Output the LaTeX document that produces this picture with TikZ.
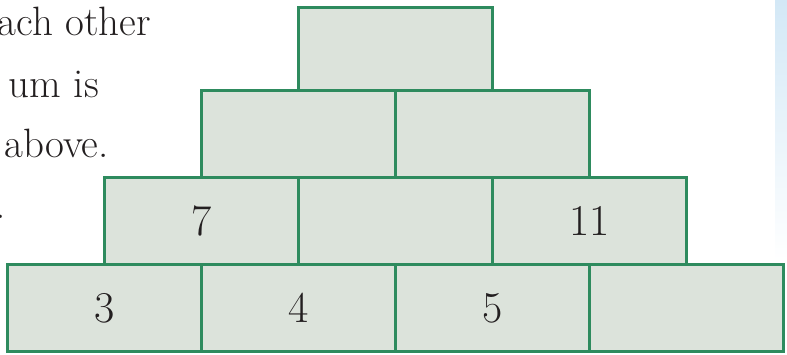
\documentclass[tikz,border=0pt]{standalone}
\usetikzlibrary{positioning}
\definecolor{brickline}{HTML}{2E8B5E}
\definecolor{brickfill}{HTML}{DCE3DB}
\definecolor{inkdark}{HTML}{231F20}
\definecolor{skyblue}{HTML}{D3E8F6}
\tikzset{
  brick/.style={draw=brickline,fill=brickfill,line width=2.4pt,minimum width=194pt,minimum height=87pt,inner sep=0pt,outer sep=0pt,font=\fontsize{44}{48}\selectfont,text=inkdark},
  prose/.style={font=\fontsize{41}{44}\selectfont,text=inkdark,inner sep=0pt,anchor=base east}
}
\begin{document}
\begin{tikzpicture}[x=1pt,y=-1pt]
  \useasboundingbox (0,0) rectangle (787,354);
  \shade[top color=skyblue,bottom color=white] (775,0) rectangle (787,262);
  % text cut off at the left edge
  \node[prose] (line1) at (151,35) {ach other};
  \node[prose] (line2) at (99,97) {um is};
  \node[prose] (line3) at (109,157) {above.};
  \node[prose] (line4) at (6,218) {.};
  % bottom row
  \node[brick] (b1) at (104.5,308) {3};
  \node[brick,right=0pt of b1] (b2) {4};
  \node[brick,right=0pt of b2] (b3) {5};
  \node[brick,right=0pt of b3] (b4) {};
  % third row
  \node[brick,anchor=south] (m1) at (b1.north east) {7};
  \node[brick,right=0pt of m1] (m2) {};
  \node[brick,right=0pt of m2] (m3) {11};
  % second row
  \node[brick,anchor=south] (n1) at (m1.north east) {};
  \node[brick,right=0pt of n1] (n2) {};
  % top
  \node[brick,anchor=south,minimum height=83pt] (top) at (n1.north east) {};
\end{tikzpicture}
\end{document}
